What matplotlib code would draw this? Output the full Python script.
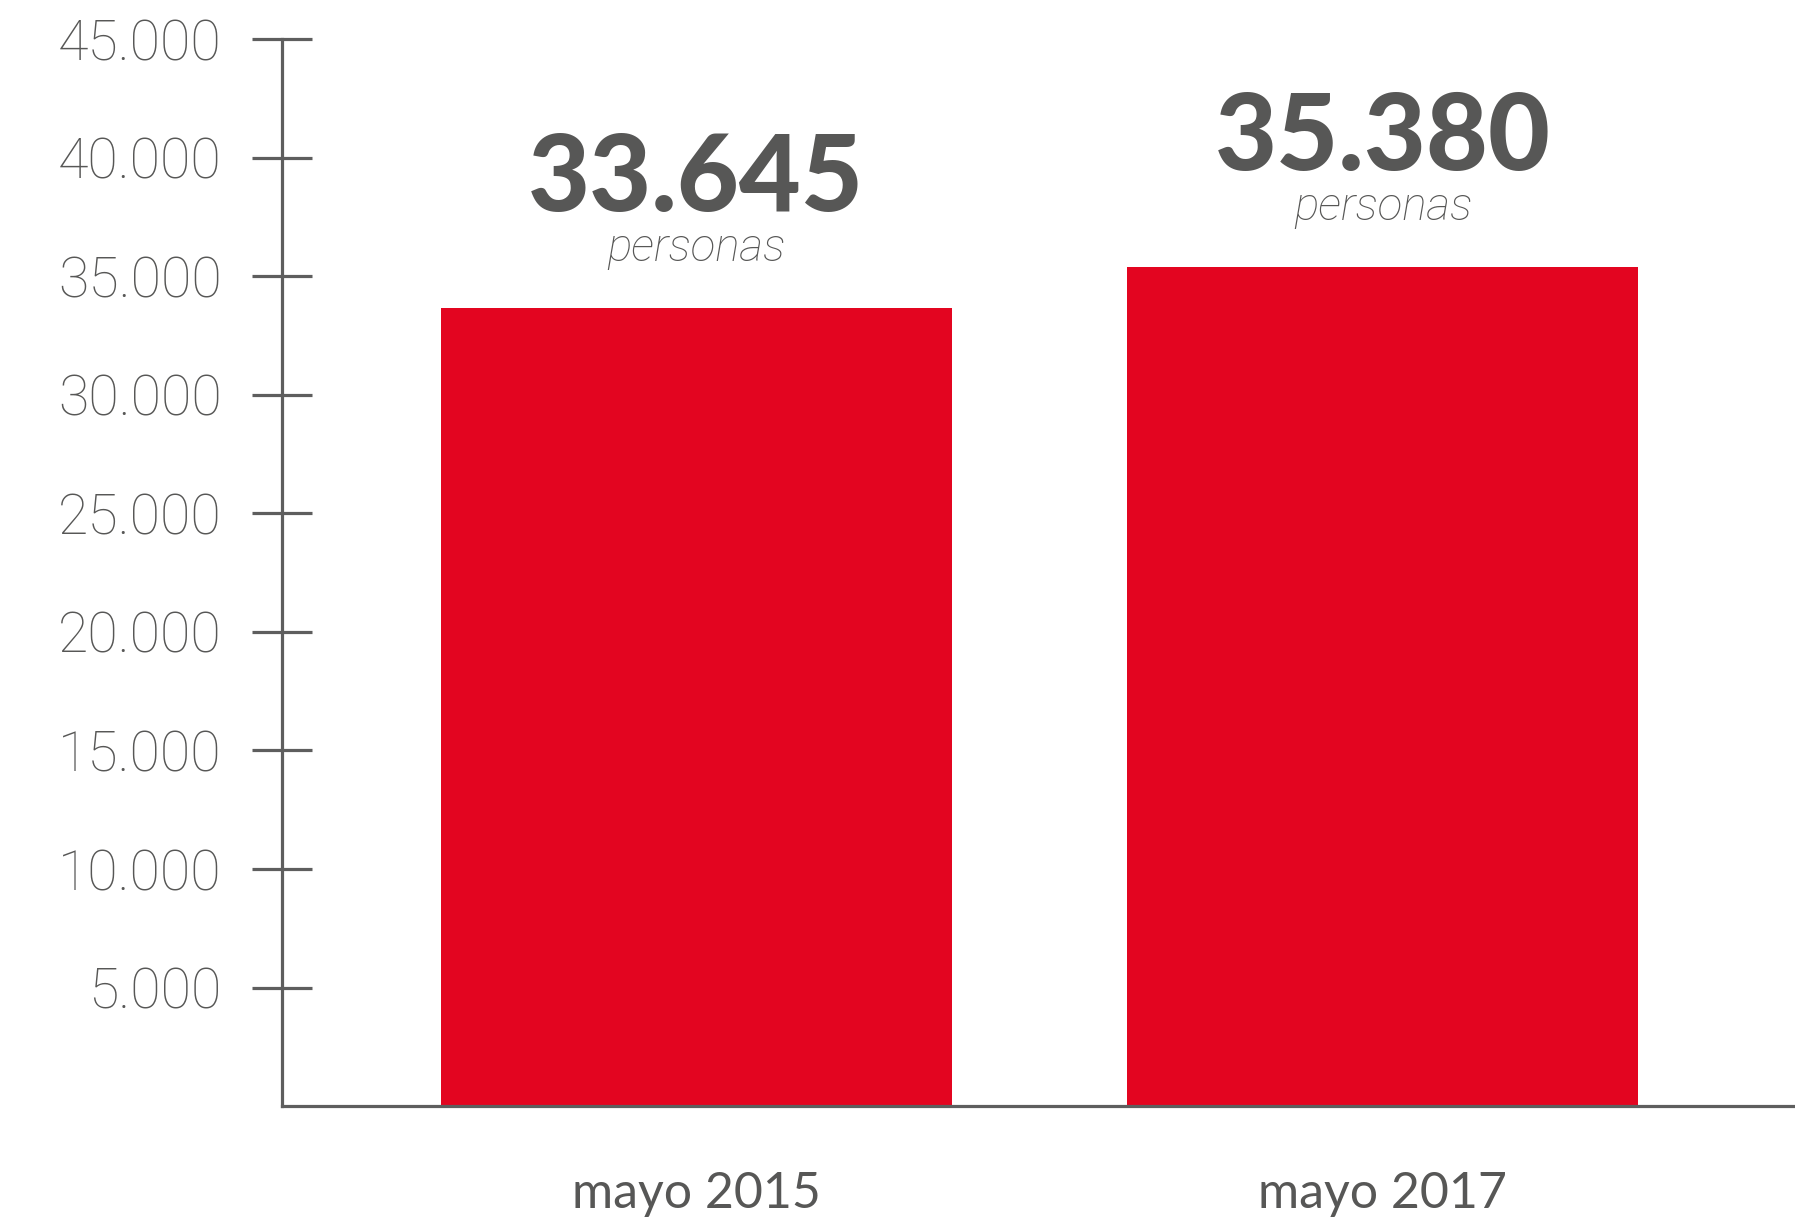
import matplotlib
matplotlib.use('Agg')
from matplotlib import pyplot as plt
from matplotlib.ticker import FuncFormatter

categories = ['mayo 2015', 'mayo 2017']
values = [33645, 35380]
value_labels = ['33.645', '35.380']
y_ticks = [5000, 10000, 15000, 20000, 25000, 30000, 35000, 40000, 45000]

bar_color = '#E30520'
axis_color = '#5E5E5E'
text_color = '#575756'

plt.rcParams['font.family'] = ['Lato', 'DejaVu Sans']

fig = plt.figure(figsize=(17.95, 12.25), dpi=100)
ax = fig.add_axes([0.1571, 0.0971, 0.8429, 0.8708])

x = list(range(len(categories)))
ax.bar(x, values, width=0.744, color=bar_color, zorder=2)

ax.set_xlim(-0.603, 1.6)
ax.set_ylim(0, 45000)

for s in ['top', 'right']:
    ax.spines[s].set_visible(False)
for s in ['left', 'bottom']:
    ax.spines[s].set_color(axis_color)
    ax.spines[s].set_linewidth(2.3)
    ax.spines[s].set_zorder(3)

ax.set_yticks(y_ticks)
ax.yaxis.set_major_formatter(FuncFormatter(lambda v, p: f'{int(v):,}'.replace(',', '.')))
ax.tick_params(axis='y', direction='inout', length=42.5, width=2.3, color=axis_color,
               pad=22, labelsize=40, labelcolor=text_color)
for lab in ax.get_yticklabels():
    lab.set_family(['Roboto', 'DejaVu Sans'])
    lab.set_fontweight('light')

ax.set_xticks(x)
ax.set_xticklabels(categories)
ax.tick_params(axis='x', length=0, pad=47, labelsize=36, labelcolor=text_color)

for xi, v, lab in zip(x, values, value_labels):
    ax.annotate(lab, (xi, v), xytext=(0, 70), textcoords='offset points',
                ha='center', va='baseline', fontsize=77, fontweight='black',
                color=text_color)
    ax.annotate('personas', (xi, v), xytext=(0, 34), textcoords='offset points',
                ha='center', va='baseline', fontsize=33, fontweight='light',
                family=['Roboto', 'DejaVu Sans'],
                fontstyle='italic', color=text_color)

plt.savefig('out.png', dpi=100)
